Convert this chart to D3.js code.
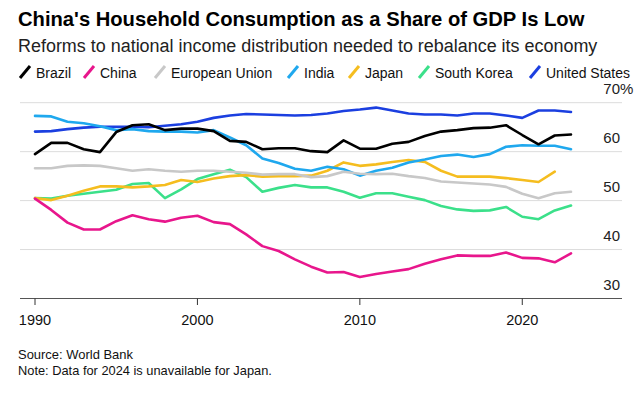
<!DOCTYPE html>
<html><head><meta charset="utf-8">
<script src="https://cdn.jsdelivr.net/npm/d3@7"></script>
<style>
html,body{margin:0;padding:0;background:#fff;}
svg{display:block;font-family:"Liberation Sans",Arial,sans-serif;}
</style></head>
<body><svg id="c" width="644" height="395"></svg>
<script>
const years = d3.range(1990, 2024);
const brazil = [59.5,61.8,61.8,60.5,59.9,64.0,65.4,65.6,64.4,64.7,64.7,64.2,62.2,62.0,60.5,60.7,60.7,60.1,59.9,62.3,60.6,60.6,61.6,62.0,63.2,64.1,64.4,64.8,64.9,65.4,63.4,61.5,63.3,63.5];
const china = [50.4,48.1,45.5,44.1,44.1,45.8,47.0,46.2,45.7,46.5,46.9,45.6,45.2,43.1,40.7,39.7,38.0,36.5,35.3,35.4,34.4,35.0,35.5,36.0,37.1,38.0,38.8,38.7,38.7,39.4,38.3,38.2,37.4,39.2];
const eu = [56.6,56.6,57.1,57.2,57.1,56.6,56.1,56.4,56.1,55.9,56.1,56.1,55.9,55.7,55.3,55.4,55.4,54.8,55.0,55.9,55.5,55.4,55.5,55.0,54.6,53.9,53.7,53.5,53.3,52.8,51.4,50.5,51.5,51.8];
const india = [67.3,67.2,66.1,65.8,65.2,64.4,64.6,64.2,64.1,64.1,63.9,64.4,62.9,61.3,58.6,57.7,56.5,56.1,56.9,56.4,55.1,56.1,56.7,57.8,58.4,59.1,59.4,58.9,59.5,61.0,61.3,61.2,61.2,60.5];
const japan = [50.5,50.1,51.0,52.0,52.9,52.9,52.7,52.9,53.2,54.2,53.8,54.5,55.0,55.2,54.9,55.0,55.0,55.1,56.1,57.8,57.1,57.4,57.9,58.3,57.9,56.1,54.9,54.9,54.9,54.6,54.2,53.8,55.9,null];
const southKorea = [50.5,50.4,51.0,51.4,51.8,52.2,53.4,53.6,50.5,52.3,54.4,55.4,56.3,54.8,51.8,52.6,53.2,52.7,52.7,51.8,50.6,51.5,51.5,50.8,50.1,48.9,48.2,47.9,48.0,48.7,46.7,46.2,48.0,49.0];
const us = [64.1,64.2,64.6,64.9,65.1,65.1,65.1,65.0,65.3,65.6,66.1,66.9,67.4,67.7,67.6,67.5,67.4,67.5,67.8,68.3,68.6,69.0,68.4,67.8,67.6,67.6,67.4,67.8,67.8,67.4,66.9,68.4,68.4,68.1];
const seriesNames = ["Brazil","China","European Union","India","Japan","South Korea","United States"];
const seriesColors = ["#000000","#e8168c","#c8c8c8","#1fa8ee","#f5bd1f","#3be08a","#1b3fe0"];
const seriesValues = [brazil, china, eu, india, japan, southKorea, us];
const yTicks = [30,40,50,60,70];
const xTicks = [1990,2000,2010,2020];

const svg = d3.select("#c");
const x = d3.scaleLinear().domain([1990, 2023]).range([35, 571]);
const y = d3.scaleLinear().domain([30, 70]).range([298.5, 102.7]);

function fitText(sel, target){
  const w = sel.node().getComputedTextLength();
  const fs = parseFloat(sel.attr("font-size"));
  sel.attr("font-size", (fs*target/w).toFixed(2));
}

// Title & subtitle
const t = svg.append("text").attr("x",18).attr("y",26).attr("font-size",20).attr("font-weight","bold").attr("fill","#000")
  .text("China's Household Consumption as a Share of GDP Is Low");
fitText(t, 567);
const st = svg.append("text").attr("x",18).attr("y",52).attr("font-size",17).attr("fill","#222")
  .text("Reforms to national income distribution needed to rebalance its economy");
fitText(st, 580);

// Legend
const legendX = [19, 83, 154, 287, 348, 418, 529];
const lg = svg.append("g");
seriesNames.forEach((n,i)=>{
  const g = lg.append("g").attr("transform",`translate(${legendX[i]},72)`);
  g.append("line").attr("x1",1).attr("y1",6).attr("x2",11).attr("y2",-6)
    .attr("stroke",seriesColors[i]).attr("stroke-width",3);
  g.append("text").attr("x",17).attr("y",5.5).attr("font-size",14).attr("fill","#111").text(n);
});

// Grid
const grid = svg.append("g");
yTicks.forEach(v=>{
  grid.append("line").attr("x1",20).attr("x2",622).attr("y1",y(v)).attr("y2",y(v))
    .attr("stroke", v===30 ? "#555" : "#dcdcdc").attr("stroke-width", v===30 ? 1.2 : 1);
  const tx = grid.append("text").attr("x",620).attr("y",y(v)-9).attr("font-size",15)
    .attr("text-anchor", "end").attr("fill","#222").text(v);
  if(v===70){
    tx.attr("text-anchor","start").text("");
    tx.append("tspan").text("70");
    tx.append("tspan").text("%");
    const w0 = tx.node().getSubStringLength(0,2);
    tx.attr("x", 620 - w0).attr("y", y(v) - 9);
  }
});

// X axis ticks and labels
xTicks.forEach(yr=>{
  svg.append("line").attr("x1",x(yr)).attr("x2",x(yr)).attr("y1",298.5).attr("y2",305)
    .attr("stroke","#333").attr("stroke-width",1);
  svg.append("text").attr("x",x(yr)).attr("y",325).attr("text-anchor","middle")
    .attr("font-size",14.5).attr("fill","#111").text(yr);
});

// Lines
const line = d3.line().defined(d=>d[1]!==null).x(d=>x(d[0])).y(d=>y(d[1]));
const order = [6,5,4,3,2,1,0];
order.forEach(i=>{
  const data = years.map((yr,k)=>[yr, seriesValues[i][k]]);
  svg.append("path").datum(data).attr("d", line).attr("fill","none")
    .attr("stroke", seriesColors[i]).attr("stroke-width",2.6)
    .attr("stroke-linejoin","round").attr("stroke-linecap","round");
});

// Footer
const s1 = svg.append("text").attr("x",18).attr("y",359).attr("font-size",12).attr("fill","#111").text("Source: World Bank");
fitText(s1, 115);
const s2 = svg.append("text").attr("x",18).attr("y",375).attr("font-size",12).attr("fill","#111").text("Note: Data for 2024 is unavailable for Japan.");
fitText(s2, 254);
</script>
</body></html>
